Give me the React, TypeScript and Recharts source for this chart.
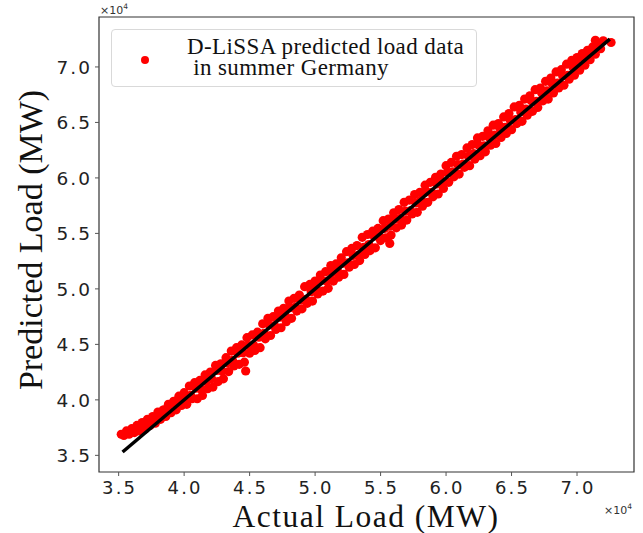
import { Label, Legend, ReferenceArea, Scatter, ScatterChart, XAxis, YAxis } from "recharts"

// actual vs predicted load (MW)
const actualLoad = [
  35200, 35400, 35600, 35800, 36000, 36200, 36400, 36600, 36800, 37000,
  37200, 37400, 37600, 37800, 38000, 38200, 38400, 38600, 38800, 39000,
  39200, 39400, 39600, 39800, 40000, 40200, 40400, 40600, 40800, 41000,
  41200, 41400, 41600, 41800, 42000, 42200, 42400, 42600, 42800, 43000,
  43200, 43400, 43600, 43800, 44000, 44200, 44400, 44600, 44800, 45000,
  45200, 45400, 45600, 45800, 46000, 46200, 46400, 46600, 46800, 47000,
  47200, 47400, 47600, 47800, 48000, 48200, 48400, 48600, 48800, 49000,
  49200, 49400, 49600, 49800, 50000, 50200, 50400, 50600, 50800, 51000,
  51200, 51400, 51600, 51800, 52000, 52200, 52400, 52600, 52800, 53000,
  53200, 53400, 53600, 53800, 54000, 54200, 54400, 54600, 54800, 55000,
  55200, 55400, 55600, 55800, 56000, 56200, 56400, 56600, 56800, 57000,
  57200, 57400, 57600, 57800, 58000, 58200, 58400, 58600, 58800, 59000,
  59200, 59400, 59600, 59800, 60000, 60200, 60400, 60600, 60800, 61000,
  61200, 61400, 61600, 61800, 62000, 62200, 62400, 62600, 62800, 63000,
  63200, 63400, 63600, 63800, 64000, 64200, 64400, 64600, 64800, 65000,
  65200, 65400, 65600, 65800, 66000, 66200, 66400, 66600, 66800, 67000,
  67200, 67400, 67600, 67800, 68000, 68200, 68400, 68600, 68800, 69000,
  69200, 69400, 69600, 69800, 70000, 70200, 70400, 70600, 70800, 71000,
  71200, 71400, 71600, 71800, 72000,
]

const predictedLoad = [
  36900, 36800, 37200, 36900, 37400, 37050, 37700, 37200, 37950, 37350,
  38250, 37700, 38500, 37900, 38900, 38250, 39080, 38500, 39600, 38850,
  39870, 39100, 40330, 39500, 40650, 39600, 41250, 40100, 41550, 40100,
  41750, 40400, 42250, 41000, 42500, 41150, 43100, 41650, 43250, 41900,
  43800, 42550, 44400, 43050, 44700, 43200, 44950, 43400, 45600, 44200,
  45850, 44450, 46100, 44700, 46850, 45500, 47350, 45800, 47500, 46350,
  48000, 46500, 48250, 47050, 48900, 47350, 49150, 48000, 49450, 48200,
  50200, 48700, 50400, 48900, 50700, 49550, 51250, 49800, 51550, 50050,
  52100, 50700, 52250, 51050, 52800, 51300, 53350, 51950, 53650, 52200,
  53900, 52550, 54650, 53100, 54900, 53450, 55200, 53700, 55450, 54350,
  56150, 54600, 56300, 54850, 56850, 55500, 57150, 55750, 57800, 56200,
  58000, 56750, 58500, 56900, 58700, 57450, 59350, 57800, 59600, 58300,
  60050, 58550, 60350, 59050, 61100, 59600, 61400, 60100, 61950, 60350,
  62100, 60950, 62700, 61100, 63000, 61700, 63600, 62000, 63750, 62350,
  64250, 62950, 64750, 63100, 64900, 63650, 65500, 64000, 65800, 64350,
  66400, 64900, 66550, 65100, 67100, 65650, 67400, 66000, 67950, 66350,
  68100, 66950, 68700, 67100, 69000, 67650, 69550, 68100, 69750, 68350,
  70250, 68900, 70600, 69250, 70850, 69700, 71200, 70150, 71500, 70650,
  71800, 71150, 72100, 71650, 72350,
]

// points lying close to the fit line inside the band
const innerActual = [
  36100, 36500, 36900, 37300, 37700, 38100, 38500, 38900, 39300, 39700,
  40100, 40500, 40900, 41300, 41700, 42100, 42500, 42900, 43300, 43700,
  44100, 44500, 44900, 45300, 45700, 46100, 46500, 46900, 47300, 47700,
  48100, 48500, 48900, 49300, 49700, 50100, 50500, 50900, 51300, 51700,
  52100, 52500, 52900, 53300, 53700, 54100, 54500, 54900, 55300, 55700,
  56100, 56500, 56900, 57300, 57700, 58100, 58500, 58900, 59300, 59700,
  60100, 60500, 60900, 61300, 61700, 62100, 62500, 62900, 63300, 63700,
  64100, 64500, 64900, 65300, 65700, 66100, 66500, 66900, 67300, 67700,
  68100, 68500, 68900, 69300, 69700, 70100, 70500, 70900, 71300,
]

const innerPredicted = [
  37350, 37300, 37750, 37670, 38270, 38420, 39110, 38980, 39660, 39810,
  40350, 40400, 41050, 40950, 41650, 41900, 42650, 42600, 43350, 43550,
  44200, 44250, 44900, 44950, 45650, 46000, 46750, 46700, 47450, 47650,
  48300, 48350, 49000, 49050, 49750, 50000, 50750, 50700, 51450, 51650,
  52300, 52350, 53000, 53050, 53750, 54000, 54750, 54700, 55450, 55650,
  56300, 56350, 57000, 57050, 57750, 58000, 58750, 58700, 59450, 59650,
  60500, 60550, 61200, 61250, 61950, 62200, 62950, 62900, 63650, 63850,
  64500, 64550, 65200, 65250, 65950, 66200, 66950, 66900, 67650, 67850,
  68500, 68550, 69200, 69250, 69950, 70150, 70800, 70950, 71550,
]

const outlierActual = [44700, 55700, 71400, 72600]
const outlierPredicted = [42600, 54100, 72400, 72200]

const fitEnds = [35300, 72500]
const axisTicks = [35000, 40000, 45000, 50000, 55000, 60000, 65000, 70000]
const seriesName = "D-LiSSA predicted load data\n in summer Germany"

const points = [
  ...actualLoad.map((actual, i) => ({ actual, predicted: predictedLoad[i] })),
  ...innerActual.map((actual, i) => ({ actual, predicted: innerPredicted[i] })),
  ...outlierActual.map((actual, i) => ({ actual, predicted: outlierPredicted[i] })),
]
const fitLine = fitEnds.map((v) => ({ actual: v, predicted: v }))

const serif = "'Liberation Serif', 'Times New Roman', serif"
const sans = "'DejaVu Sans', sans-serif"

function XTick({ x, y, payload }: any) {
  return (
    <text x={x + 1} y={y + 16} textAnchor="middle" fontFamily={sans} fontSize={18} letterSpacing={2.2} fill="#222">
      {(payload.value / 10000).toFixed(1)}
    </text>
  )
}

function YTick({ x, y, payload }: any) {
  return (
    <text x={x - 1} y={y + 7} textAnchor="end" fontFamily={sans} fontSize={18.5} letterSpacing={2} fill="#222">
      {(payload.value / 10000).toFixed(1)}
    </text>
  )
}

function Dot({ cx, cy }: any) {
  return <circle cx={cx} cy={cy} r={4.6} fill="#ff0000" />
}

function Exponent({ x, y }: { x: number; y: number }) {
  return (
    <text x={x} y={y} fontFamily={sans} fontSize={11} fill="#333">
      ×10<tspan dy={-5} fontSize={7.5}>4</tspan>
    </text>
  )
}

function LegendBox() {
  return (
    <div
      style={{
        position: "relative",
        boxSizing: "border-box",
        width: 366,
        height: 58,
        border: "1px solid #d9d9d9",
        borderRadius: 4,
        background: "rgba(255,255,255,0.85)",
      }}
    >
      <span
        style={{
          position: "absolute",
          left: 29,
          top: 26,
          width: 8,
          height: 8,
          borderRadius: "50%",
          background: "#ff0000",
        }}
      />
      <div
        style={{
          position: "absolute",
          left: 75,
          top: 6,
          whiteSpace: "pre",
          lineHeight: "21px",
          fontFamily: serif,
          fontSize: 23,
          letterSpacing: 0.4,
          color: "#111",
        }}
      >
        {seriesName}
      </div>
    </div>
  )
}

export default function App() {
  return (
    <div style={{ position: "absolute", left: 0, top: 0, background: "#fff" }}>
      <ScatterChart width={643} height={533} margin={{ top: 17, right: 9, bottom: 31, left: 39 }}>
        <ReferenceArea x1={33500} x2={74350} y1={33500} y2={74500} fill="none" stroke="#333" strokeWidth={1.2} />
        <XAxis
          type="number"
          dataKey="actual"
          domain={[33500, 74350]}
          ticks={axisTicks}
          allowDataOverflow
          height={30}
          axisLine={false}
          tickSize={4}
          tickLine={{ stroke: "#555" }}
          tick={<XTick />}
        >
          <Label content={() => <text x={366} y={526.5} textAnchor="middle" fontFamily={serif} fontSize={31.5} letterSpacing={1.5} fill="#111">Actual Load (MW)</text>} />
          <Label content={() => <Exponent x={604} y={514} />} />
        </XAxis>
        <YAxis
          type="number"
          dataKey="predicted"
          domain={[33500, 74500]}
          ticks={axisTicks}
          allowDataOverflow
          width={60}
          axisLine={false}
          tickSize={4}
          tickLine={{ stroke: "#555" }}
          tick={<YTick />}
        >
          <Label content={() => <text transform="translate(42,240) rotate(-90)" textAnchor="middle" fontFamily={serif} fontSize={34} fill="#111">Predicted Load (MW)</text>} />
          <Label content={() => <Exponent x={100} y={14} />} />
        </YAxis>
        <Legend
          layout="vertical"
          align="center"
          verticalAlign="middle"
          wrapperStyle={{ left: 111, top: 29, width: 366, height: 58 }}
          content={() => <LegendBox />}
        />
        <Scatter name={seriesName} data={points} shape={<Dot />} isAnimationActive={false} />
        <Scatter
          data={fitLine}
          line={{ stroke: "#000", strokeWidth: 3.5 }}
          shape={() => <g />}
          legendType="none"
          isAnimationActive={false}
        />
      </ScatterChart>
    </div>
  )
}
